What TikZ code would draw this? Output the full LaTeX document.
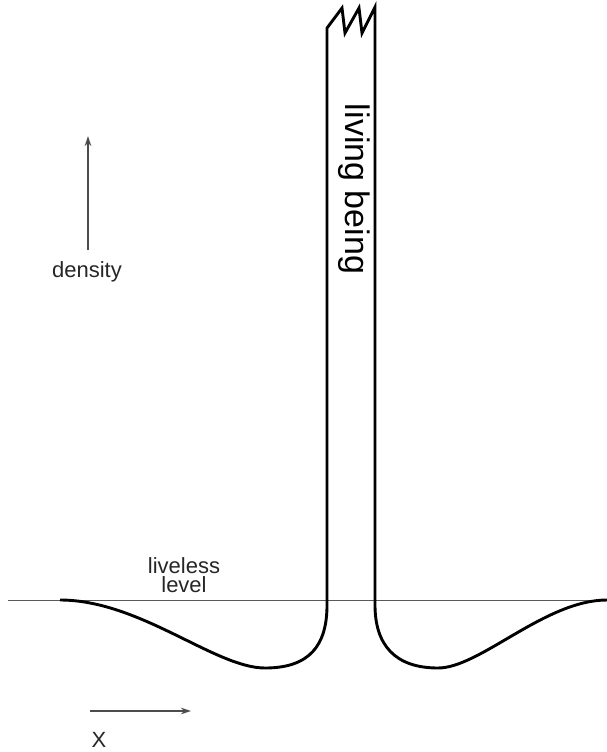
\documentclass[tikz,border=0pt]{standalone}
\usepackage{fontspec}
\setsansfont{Liberation Sans}
\usetikzlibrary{arrows.meta}

\begin{document}
\begin{tikzpicture}[
  x=1pt,
  y=-1pt,
  >={Stealth[length=10pt,width=6.5pt]},
  font=\sffamily,
  profile/.style={draw=black, line width=2.9pt, line join=miter},
  level/.style={draw=black!65, line width=0.9pt},
  axis/.style={->, draw=black!70, line width=1.1pt},
  label/.style={text=black!85, inner sep=0pt, font=\fontsize{22}{19}\selectfont\sffamily},
  biglabel/.style={text=black, inner sep=0pt, font=\fontsize{34}{40}\selectfont\sffamily}
]

\useasboundingbox (0,0) rectangle (607,752);

% ---------------------------------------------------------------------------
% Reference level
% ---------------------------------------------------------------------------
\coordinate (lvlW) at (8,600);
\coordinate (lvlE) at (607,600);
\draw[level] (lvlW) -- (lvlE);
\node[label, align=center] (liveless) at (184,575) {liveless\\level};

% ---------------------------------------------------------------------------
% Density profile with the living being as a tall column
% ---------------------------------------------------------------------------
\draw[profile] (60,600) .. controls (140,600) and (215,668) .. (265,668)
  .. controls (310,668) and (327,645) .. (327,605)
  -- (327,28) -- (342,8) -- (345,33) -- (359,8) -- (362,33) -- (375,7)
  -- (375,605) .. controls (375,645) and (395,668) .. (438,668)
  .. controls (480,668) and (545,600) .. (607,600);
\node[biglabel, rotate=-90] (being) at (354,189) {living being};

% ---------------------------------------------------------------------------
% Axes
% ---------------------------------------------------------------------------
\node[label] (density) at (87,272) {density};
\coordinate (densfoot) at (88,250);
\coordinate (denstip) at (88,136);
\draw[axis] (densfoot) -- (denstip);

\node[label] (xlabel) at (99,740) {X};
\coordinate (xfoot) at (90,711);
\coordinate (xtip) at (191,711);
\draw[axis] (xfoot) -- (xtip);

\end{tikzpicture}
\end{document}
